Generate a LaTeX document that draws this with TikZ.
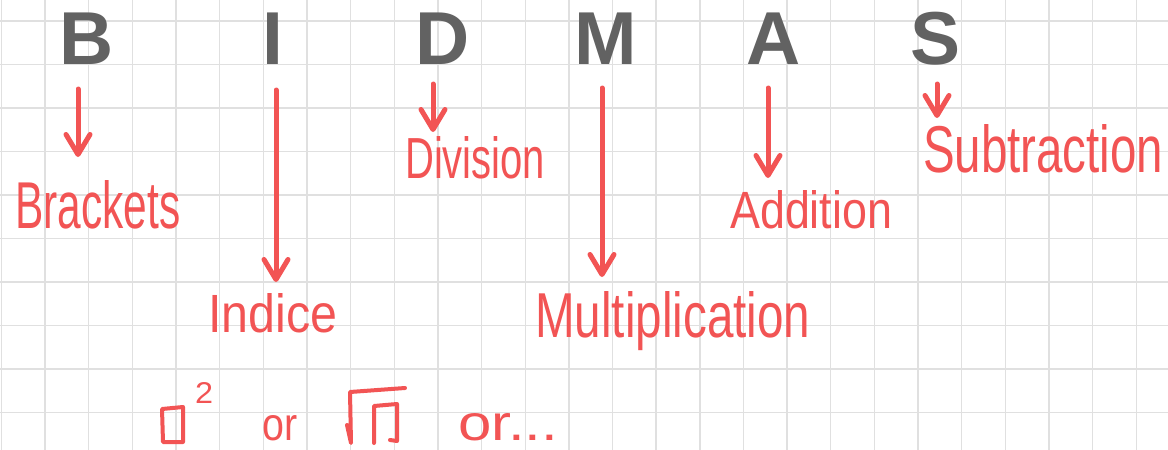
\documentclass[tikz,border=0pt]{standalone}
\usepackage{fontspec}
\usepackage{graphicx}
\setmainfont{Liberation Sans}
\usetikzlibrary{arrows.meta}
\definecolor{pen}{RGB}{242,84,84}
\definecolor{lettergray}{RGB}{98,98,98}
\definecolor{gridgray}{RGB}{224,224,224}
\newcommand{\fitlab}[3]{\resizebox{#1pt}{#2pt}{#3}}
\tikzset{
  big/.style={font=\fontsize{75}{75}\selectfont\bfseries, text=lettergray, inner sep=0pt, anchor=base},
  lbl/.style={text=pen, inner sep=0pt, anchor=base west},
  arr/.style={draw=pen, line width=5pt, line cap=round, -{Straight Barb[length=20pt,width=24pt,round]}},
  pens/.style={draw=pen, line width=4pt, line cap=round, line join=round},
  gridline/.style={draw=gridgray, line width=1.4pt}
}
\begin{document}
\begin{tikzpicture}[x=1pt, y=-1pt]
\useasboundingbox (0,0) rectangle (1168,450);
\fill[white] (0,0) rectangle (1168,450);
% grid
\foreach \k in {0,...,26} {\draw[gridline] (1.4+43.65*\k,0) -- (1.4+43.65*\k,450);}
\foreach \k in {0,...,9} {\draw[gridline] (0,21+43.5*\k) -- (1168,21+43.5*\k);}
% big letters
\node[big] (B) at (87,64) {B};
\node[big] (I) at (273,64) {I};
\node[big] (D) at (443,64) {D};
\node[big] (M) at (606,64) {M};
\node[big] (A) at (774,64) {A};
\node[big] (S) at (936,64) {S};
% labels
\node[lbl] (brackets) at (15,228) {\fitlab{165}{48}{Brackets}};
\node[lbl] (indice) at (208,332) {\fitlab{129}{39}{Indice}};
\node[lbl] (division) at (405,178) {\fitlab{140}{42}{Division}};
\node[lbl] (multiplication) at (535,337) {\fitlab{275}{46}{Multiplication}};
\node[lbl] (addition) at (730,228) {\fitlab{162}{38}{Addition}};
\node[lbl] (subtraction) at (923,172) {\fitlab{240}{48}{Subtraction}};
% arrows
\coordinate (Bs) at (78,89);   \coordinate (Be) at (78,157);
\coordinate (Is) at (276,90);  \coordinate (Ie) at (276,282);
\coordinate (Ds) at (433,84);  \coordinate (De) at (433,132);
\coordinate (Ms) at (602,88);  \coordinate (Me) at (602,277);
\coordinate (As) at (768,88);  \coordinate (Ae) at (768,178);
\coordinate (Ss) at (937,84);  \coordinate (Se) at (937,118);
\draw[arr] (Bs) -- (Be);
\draw[arr] (Is) -- (Ie);
\draw[arr] (Ds) -- (De);
\draw[arr] (Ms) -- (Me);
\draw[arr] (As) -- (Ae);
\draw[arr] (Ss) -- (Se);
% bottom row: box squared or sqrt box or ...
\draw[pens] (162,409) -- (183,407) -- (183,442) -- (163,442) -- cycle;
\node[lbl] (two) at (195,403) {\fitlab{18}{21}{2}};
\node[lbl] (or1) at (262,440) {\fitlab{35}{25}{or}};
\draw[pens] (347,425) -- (351,443) -- (350,392) -- (405,388);
\draw[pens] (374,443) -- (374,406) -- (397,404) -- (397,441) -- (390,440);
\node[lbl] (or2) at (458,440) {\fitlab{100}{27}{or...}};
\end{tikzpicture}
\end{document}
